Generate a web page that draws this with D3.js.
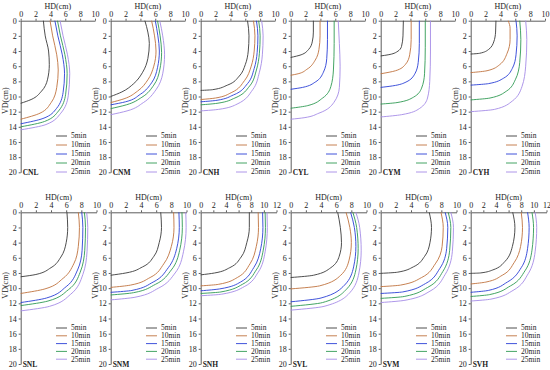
<!DOCTYPE html>
<html>
<head>
<meta charset="utf-8">
<script src="https://cdn.jsdelivr.net/npm/d3@7"></script>
<style>
body { margin:0; background:#fff; }
svg text { font-family:"Liberation Serif", "DejaVu Serif", serif; fill:#222; }
.axis { color:#333; }
.axis path, .axis line { stroke:#333; stroke-width:0.8; }
</style>
</head>
<body>
<svg id="chart" width="550" height="370"></svg>
<script>
// panel names, x-axis maximum per panel, legend labels
var panels = ["CNL","CNM","CNH","CYL","CYM","CYH","SNL","SNM","SNH","SVL","SVM","SVH"];
var hdMax = [10,10,10,10,10,10,10,10,12,10,10,12];
var times = ["5min","10min","15min","20min","25min"];
var hdTicks = [0,2,4,6,8,10,12];
var vdTicks = [0,2,4,6,8,10,12,14,16,18,20];

// wetting fronts, each point is [HD, VD] in cm, one list per time
var CNL = [
  [[3.05,0],[3.3,2],[3.75,4],[3.85,5.8],[3.6,7.8],[2.8,9.3],[1.4,10.4],[0,10.9]],
  [[3.95,0],[4.3,2],[4.85,4.5],[5.05,6.5],[4.85,8.8],[4.1,10.8],[2.6,12.2],[0,13.0]],
  [[4.6,0],[5.0,2],[5.6,4.5],[5.9,7],[5.7,9.5],[4.8,11.6],[3.0,12.9],[0,13.6]],
  [[4.95,0],[5.35,2],[5.95,4.5],[6.25,7],[6.05,9.7],[5.1,11.9],[3.2,13.3],[0,14.0]],
  [[5.3,0],[5.7,2],[6.3,4.5],[6.6,7],[6.4,9.9],[5.4,12.2],[3.4,13.7],[0,14.4]]
];
var CNM = [
  [[4.6,0],[5.0,1.5],[5.2,3],[5.0,5],[4.3,6.8],[3.1,8.3],[1.5,9.4],[0,10.0]],
  [[5.5,0],[5.9,2],[6.1,4],[5.8,6],[5.0,7.8],[3.6,9.3],[1.8,10.3],[0,10.8]],
  [[6.0,0],[6.35,2],[6.55,4],[6.3,6.2],[5.5,8.2],[4.0,9.7],[2.0,10.7],[0,11.1]],
  [[6.3,0],[6.65,2],[6.85,4.2],[6.6,6.5],[5.8,8.5],[4.2,10.1],[2.1,11.1],[0,11.6]],
  [[6.6,0],[7.0,2],[7.25,4.5],[7.0,7],[6.1,9.1],[4.4,10.8],[2.2,11.9],[0,12.4]]
];
var CNH = [
  [[6.3,0],[6.5,2],[6.4,4],[6.0,5.8],[5.2,7.3],[3.6,8.5],[1.6,9.1],[0,9.2]],
  [[7.1,0],[7.3,2],[7.2,4],[6.8,6],[5.9,7.9],[4.1,9.5],[2.0,10.2],[0,10.4]],
  [[7.5,0],[7.7,2],[7.6,4.2],[7.2,6.3],[6.3,8.3],[4.4,9.8],[2.2,10.5],[0,10.7]],
  [[7.8,0],[8.0,2],[7.9,4.3],[7.5,6.5],[6.6,8.6],[4.6,10.2],[2.2,10.9],[0,11.1]],
  [[8.2,0],[8.4,2],[8.3,4.5],[7.9,6.8],[7.0,9.1],[4.9,11.0],[2.4,11.7],[0,11.9]]
];
var CYL = [
  [[3.05,0],[3.05,1.5],[2.9,2.8],[2.4,3.8],[1.4,4.5],[0,4.85]],
  [[3.95,0],[3.95,2],[3.8,3.8],[3.3,5.2],[2.2,6.4],[1.0,7.0],[0,7.2]],
  [[4.95,0],[4.95,2.5],[4.85,5],[4.4,6.8],[3.3,8.1],[1.6,8.8],[0,9.05]],
  [[5.85,0],[5.85,3],[5.75,6.5],[5.4,8.7],[4.3,10.2],[2.3,11.2],[0,11.55]],
  [[6.4,0],[6.55,3],[6.65,6],[6.55,8.8],[5.8,10.8],[3.8,12.2],[1.8,12.8],[0,13.0]]
];
var CYM = [
  [[3.05,0],[3.0,2],[2.8,3.4],[2.2,4.1],[1.0,4.5],[0,4.65]],
  [[4.1,0],[4.1,2.5],[3.9,4.5],[3.3,5.8],[2.0,6.6],[0,7.0]],
  [[5.2,0],[5.2,3],[5.05,5.5],[4.6,7],[3.4,8.1],[1.6,8.6],[0,8.8]],
  [[6.0,0],[6.0,3.5],[5.9,7],[5.5,8.9],[4.4,10.1],[2.2,10.8],[0,11.0]],
  [[6.7,0],[6.7,4],[6.6,8],[6.3,10.2],[5.2,11.6],[2.8,12.4],[0,12.7]]
];
var CYH = [
  [[3.4,0],[3.35,1.5],[3.1,2.8],[2.4,3.8],[1.2,4.3],[0,4.4]],
  [[5.05,0],[5.3,1],[5.3,2.5],[4.9,4.3],[3.9,5.8],[2.2,6.6],[0,6.85]],
  [[6.1,0],[6.25,2],[6.1,4.5],[5.6,6.3],[4.4,7.6],[2.4,8.3],[0,8.5]],
  [[6.6,0],[6.75,2.5],[6.6,5.5],[6.0,7.8],[4.8,9.3],[2.6,10.2],[0,10.45]],
  [[7.4,0],[7.55,2.5],[7.4,6],[6.9,8.7],[5.6,10.6],[3.2,11.7],[0,12.0]]
];
var SNL = [
  [[6.1,0],[6.2,2],[6.0,4],[5.3,5.9],[4.0,7.3],[2.0,8.2],[0,8.5]],
  [[7.6,0],[7.75,2],[7.6,4.5],[7.0,6.8],[5.6,8.7],[3.2,10.1],[0,10.7]],
  [[8.05,0],[8.2,2],[8.1,5],[7.5,7.6],[6.0,9.8],[3.4,11.3],[0,11.9]],
  [[8.4,0],[8.55,2],[8.45,5],[7.85,7.9],[6.3,10.2],[3.6,11.7],[0,12.3]],
  [[8.7,0],[8.85,2],[8.75,5.2],[8.2,8.2],[6.6,10.8],[3.8,12.4],[0,13.0]]
];
var SNM = [
  [[6.6,0],[6.7,2],[6.4,4],[5.7,5.8],[4.2,7.2],[2.0,8.0],[0,8.3]],
  [[8.3,0],[8.35,2],[8.0,4.5],[7.0,6.8],[5.2,8.6],[2.6,9.6],[0,9.9]],
  [[9.0,0],[9.05,2],[8.7,4.8],[7.6,7.3],[5.6,9.2],[2.8,10.3],[0,10.55]],
  [[9.4,0],[9.45,2],[9.1,5],[8.0,7.6],[5.9,9.5],[3.0,10.6],[0,10.9]],
  [[9.9,0],[9.95,2],[9.6,5.2],[8.5,8.0],[6.3,10.0],[3.2,11.2],[0,11.55]]
];
var SNH = [
  [[7.7,0],[7.7,2],[7.3,4],[6.4,5.9],[4.6,7.3],[2.2,8.0],[0,8.25]],
  [[9.1,0],[9.15,2],[8.8,4.5],[7.8,6.8],[5.8,8.6],[2.8,9.5],[0,9.7]],
  [[9.8,0],[9.85,2],[9.5,4.8],[8.4,7.3],[6.3,9.2],[3.0,10.1],[0,10.35]],
  [[10.2,0],[10.25,2],[9.9,5],[8.8,7.6],[6.6,9.5],[3.2,10.5],[0,10.7]],
  [[10.5,0],[10.55,2],[10.2,5.2],[9.1,7.9],[6.9,9.8],[3.3,10.8],[0,11.0]]
];
var SVL = [
  [[6.2,0],[6.55,2],[6.7,4],[6.4,5.8],[5.3,7.3],[3.0,8.3],[0,8.6]],
  [[7.3,0],[7.8,2],[8.0,4],[7.7,6.3],[6.6,8.3],[3.8,9.7],[0,10.1]],
  [[7.9,0],[8.4,2],[8.6,4.5],[8.3,7.2],[7.1,9.6],[4.0,11.3],[0,11.8]],
  [[8.2,0],[8.7,2],[8.9,4.8],[8.6,7.6],[7.4,10.1],[4.2,11.9],[0,12.4]],
  [[8.6,0],[9.1,2],[9.3,5],[9.0,8],[7.8,10.6],[4.4,12.4],[0,12.9]]
];
var SVM = [
  [[6.4,0],[6.7,2],[6.5,4],[5.8,5.8],[4.3,7.2],[2.2,7.9],[0,8.05]],
  [[7.95,0],[8.25,2],[8.1,4.5],[7.2,6.8],[5.4,8.6],[2.6,9.6],[0,9.8]],
  [[8.5,0],[8.85,2],[8.7,4.8],[7.8,7.4],[5.9,9.4],[2.9,10.5],[0,10.7]],
  [[8.9,0],[9.25,2],[9.1,5],[8.2,7.8],[6.2,9.9],[3.1,11.1],[0,11.35]],
  [[9.25,0],[9.6,2],[9.45,5.2],[8.5,8.2],[6.5,10.4],[3.2,11.6],[0,11.9]]
];
var SVH = [
  [[6.65,0],[7.0,2],[6.6,4.5],[5.4,6.5],[3.5,7.6],[1.5,8.0],[0,8.05]],
  [[8.0,0],[8.2,2],[7.9,4.5],[6.9,6.6],[5.0,8.3],[2.4,9.2],[0,9.45]],
  [[9.0,0],[9.25,2],[9.0,4.8],[8.0,7.3],[5.8,9.2],[2.8,10.3],[0,10.55]],
  [[9.7,0],[9.95,2],[9.7,5],[8.6,7.7],[6.3,9.7],[3.0,10.85],[0,11.1]],
  [[10.2,0],[10.45,2],[10.2,5.2],[9.1,8.1],[6.7,10.3],[3.2,11.45],[0,11.7]]
];
var curves = [CNL,CNM,CNH,CYL,CYM,CYH,SNL,SNM,SNH,SVL,SVM,SVH];

var colors = ["#3a3a3a","#c0733e","#2a3fd6","#2f9a52","#a58be6"];
var serif = "'Liberation Serif', 'DejaVu Serif', serif";

var svg = d3.select("#chart");

function styleTicks(a) {
    a.selectAll("text")
	.attr("fill", null)
	.style("fill", "#222")
	.style("font-size", "8px")
	.style("font-family", serif);
}

panels.forEach(function(name, i) {
    var col = i % 6, row = Math.floor(i / 6);
    var left = col * 90;
    var top = row == 0 ? 20.7 : 212.3;
    var bot = row == 0 ? 172.3 : 364;
    var x0 = left + 20.7, x1 = left + (row == 0 ? 95 : 96.5);

    var x = d3.scaleLinear([0, hdMax[i]], [x0, x1]);
    var y = d3.scaleLinear([0, 20], [top, bot]);

    var g = svg.append("g");

    g.append("g")
	.attr("class", "axis")
	.attr("transform", "translate(0," + top + ")")
	.call(d3.axisTop(x)
	      .tickValues(hdTicks.filter(d => d <= hdMax[i]))
	      .tickSize(2).tickSizeOuter(0).tickPadding(2))
	.call(styleTicks);

    g.append("g")
	.attr("class", "axis")
	.attr("transform", "translate(" + x0 + ",0)")
	.call(d3.axisLeft(y)
	      .tickValues(vdTicks)
	      .tickSize(2).tickSizeOuter(0).tickPadding(2))
	.call(styleTicks);

    g.append("text")
	.attr("x", (x0 + x1) / 2)
	.attr("y", top - 12)
	.attr("text-anchor", "middle")
	.style("font-family", serif)
	.style("font-size", "8px")
	.text("HD(cm)");

    g.append("text")
	.attr("transform", "translate(" + (left + 7.5) + "," + (top + (row == 0 ? 80 : 73)) + ") rotate(-90)")
	.attr("text-anchor", "middle")
	.style("font-family", serif)
	.style("font-size", "8px")
	.text("VD(cm)");

    var line = d3.line()
	.x(d => x(d[0]))
	.y(d => y(d[1]))
	.curve(d3.curveMonotoneY);

    g.selectAll(".front")
	.data(curves[i])
	.join("path")
	.attr("class", "front")
	.attr("d", line)
	.style("fill", "none")
	.style("stroke", (d, k) => colors[k])
	.style("stroke-width", 0.9);

    // legend
    var ly0 = row == 0 ? 136 : 328, lstep = row == 0 ? 9 : 7.8;
    var leg = g.selectAll(".leg")
	.data(times)
	.join("g")
	.attr("class", "leg")
	.attr("transform", (d, k) => "translate(" + (left + 56) + "," + (ly0 + k * lstep) + ")");
    leg.append("line")
	.attr("x1", 0).attr("x2", 11)
	.style("stroke", (d, k) => colors[k])
	.style("stroke-width", 0.9);
    leg.append("text")
	.attr("x", 15)
	.attr("dy", "0.32em")
	.style("font-family", serif)
	.style("font-size", "7.5px")
	.text(d => d);

    g.append("text")
	.attr("x", x0 + 2)
	.attr("y", bot + 2.5)
	.style("font-family", serif)
	.style("font-size", "7.5px")
	.style("font-weight", "bold")
	.text(name);
});
</script>
</body>
</html>
